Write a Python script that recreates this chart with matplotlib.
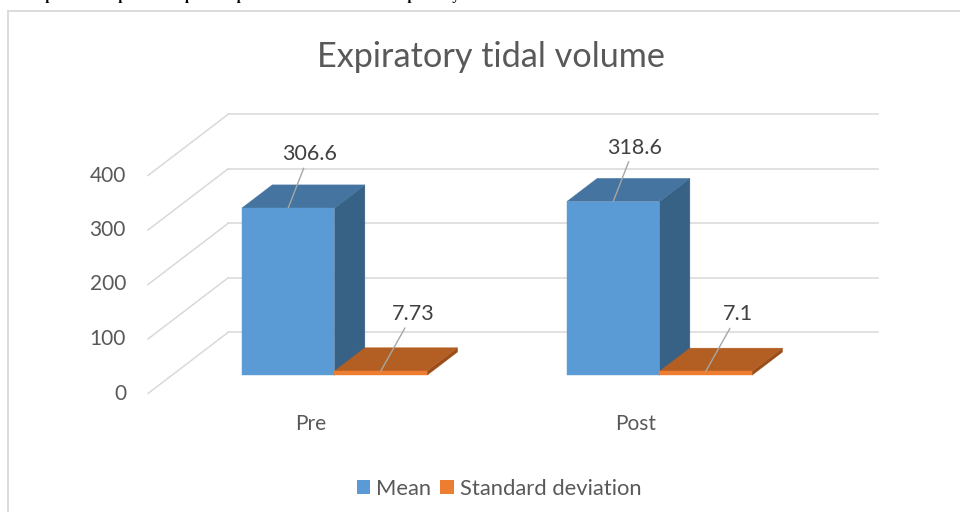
import matplotlib
matplotlib.use("Agg")
import matplotlib.pyplot as plt
from matplotlib.patches import Polygon, Patch
from matplotlib.lines import Line2D

# ---- data -------------------------------------------------------------------
categories   = ["Pre", "Post"]
series_names = ["Mean", "Standard deviation"]
mean_vals    = [306.6, 318.6]
sd_vals      = [7.73, 7.1]
value_ticks  = [0, 100, 200, 300, 400]
TITLE   = "Expiratory tidal volume"
CAPTION = ("Graph 10: Comparison of pre and post intervention data of "
           "expiratory tidal volume")

# ---- look -------------------------------------------------------------------
FONT       = "Lato"
FS         = 15
TXT_GREY   = "#595959"
LBL_GREY   = "#404040"
GRID_GREY  = "#D9D9D9"
LEADER     = "#A6A6A6"
# front / top / side shades for each series
SHADES = {
    "Mean":               ("#5B9BD5", "#44749F", "#386186"),
    "Standard deviation": ("#ED7D31", "#B35E22", "#9A4D19"),
}

# oblique projection: one unit of depth shifts right and "up"
DEPTH_DX = 0.246      # category units per depth unit
DEPTH_DV = 112.0      # value units per depth unit
BAR_W    = 0.285
BAR_Z0, BAR_Z1 = 0.30, 0.68

PX_PER_CAT = 325.0
PX_PER_VAL = 0.545
ORIGIN_PX  = (310.5, 393.5)   # where category 0 / value 0 / depth 0 lands
W, H = 960, 512


def proj(x, v, z):
    return (x + z * DEPTH_DX, v + z * DEPTH_DV)


fig = plt.figure(figsize=(W / 100, H / 100), dpi=100)
ax = fig.add_axes([0, 0, 1, 1])
ax.set_xlim(-ORIGIN_PX[0] / PX_PER_CAT, (W - ORIGIN_PX[0]) / PX_PER_CAT)
ax.set_ylim(-(H - ORIGIN_PX[1]) / PX_PER_VAL, ORIGIN_PX[1] / PX_PER_VAL)
ax.axis("off")

x_lo, x_hi = -0.5, len(categories) - 0.5

# back wall + side wall gridlines
for v in value_ticks:
    bx0, by = proj(x_lo, v, 1)
    bx1, _ = proj(x_hi, v, 1)
    ax.plot([bx0, bx1], [by, by], color=GRID_GREY, lw=1.1, zorder=1)
    fx, fy = proj(x_lo, v, 0)
    ax.plot([fx, bx0], [fy, by], color=GRID_GREY, lw=1.1, zorder=1)
    ax.annotate(f"{v}", xy=(fx, fy), xytext=(-22, 0), textcoords="offset pixels",
                ha="right", va="center", fontsize=FS, color=TXT_GREY, family=FONT)


def draw_bar(x0, x1, v, shades, z):
    front, top, side = shades
    faces = [
        ([proj(x1, 0, BAR_Z0), proj(x1, v, BAR_Z0), proj(x1, v, BAR_Z1), proj(x1, 0, BAR_Z1)], side),
        ([proj(x0, v, BAR_Z0), proj(x1, v, BAR_Z0), proj(x1, v, BAR_Z1), proj(x0, v, BAR_Z1)], top),
        ([proj(x0, 0, BAR_Z0), proj(x1, 0, BAR_Z0), proj(x1, v, BAR_Z0), proj(x0, v, BAR_Z0)], front),
    ]
    for pts, c in faces:
        ax.add_patch(Polygon(pts, closed=True, facecolor=c, edgecolor=c, lw=0.3, zorder=z))


z = 2
for i, cat in enumerate(categories):
    for j, (name, vals) in enumerate(zip(series_names, [mean_vals, sd_vals])):
        v = vals[i]
        x0 = i - BAR_W + j * BAR_W
        x1 = x0 + BAR_W
        draw_bar(x0, x1, v, SHADES[name], z)
        z += 1
        off = (21, 54) if j == 0 else (32, 57)
        ax.annotate(f"{v}", xy=proj((x0 + x1) / 2, v, BAR_Z0), xytext=off,
                    textcoords="offset pixels", ha="center", va="center",
                    fontsize=FS + 0.5, color=LBL_GREY, family=FONT, zorder=20,
                    arrowprops=dict(arrowstyle="-", color=LEADER, lw=1.0,
                                    shrinkA=1, shrinkB=0))
    ax.annotate(cat, xy=proj(i, 0, 0), xytext=(0, -31), textcoords="offset pixels",
                ha="center", va="center", fontsize=FS, color=TXT_GREY, family=FONT)

fig.text(491 / W, 1 - 57 / H, TITLE, ha="center", va="center",
         fontsize=24.7, color=TXT_GREY, family=FONT)

handles = [Patch(facecolor=SHADES[n][0], label=n) for n in series_names]
fig.legend(handles=handles, loc="center", bbox_to_anchor=(499 / W, 1 - 489 / H),
           ncol=2, frameon=False, handlelength=0.6, handleheight=0.6,
           handletextpad=0.28, columnspacing=0.42,
           prop={"family": FONT, "size": FS + 0.8}, labelcolor=TXT_GREY)

# chart-area border (top and left edges show)
fig.add_artist(Line2D([7.5 / W, 1], [1 - 10.5 / H] * 2, transform=fig.transFigure,
                      color=GRID_GREY, lw=1.3))
fig.add_artist(Line2D([7.5 / W] * 2, [0, 1 - 10.5 / H], transform=fig.transFigure,
                      color=GRID_GREY, lw=1.3))

# caption of the page above the chart; its baseline sits on the top edge,
# so only the descenders remain visible
fig.text(20 / W, 1.0, CAPTION, ha="left", va="baseline", fontsize=10.5,
         fontweight="bold", family="Liberation Serif", color="black")

fig.savefig("out.png", dpi=100)
